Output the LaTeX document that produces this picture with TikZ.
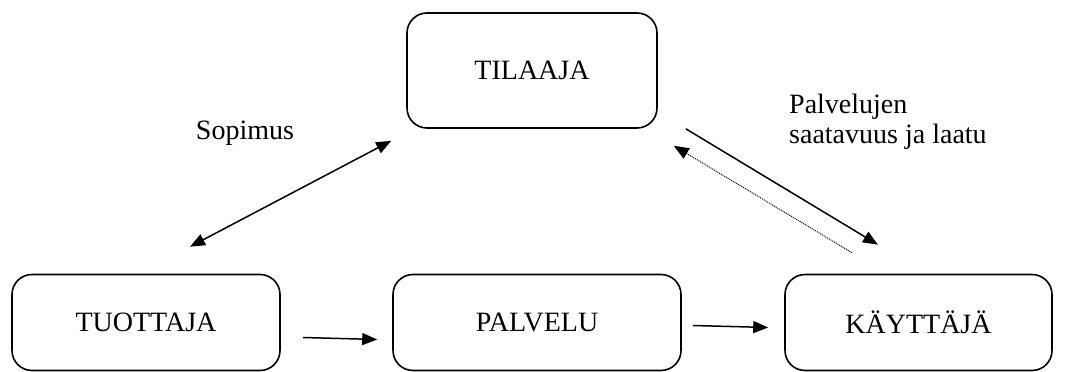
\documentclass[tikz,border=0pt]{standalone}
\usepackage{fontspec}
\setmainfont{Liberation Serif}
\newfontfamily\timesfont{Liberation Serif}
\usetikzlibrary{arrows.meta}
\begin{document}
\begin{tikzpicture}[x=1pt, y=-1pt, >={Triangle[length=15pt,width=12pt]}, font=\timesfont\fontsize{28}{30}\selectfont]
    \tikzstyle{box}=[draw, rounded corners=20pt, line width=1.6pt, inner sep=0pt, minimum height=96pt]
    \tikzstyle{arr}=[->, line width=1.5pt]
    \tikzstyle{back}=[->, line width=1pt, densely dotted]
    \useasboundingbox (0,0) rectangle (1066,372);

    \node[box, minimum width=268pt] (tuottaja) at (146,322.5) {TUOTTAJA};
    \node[box, minimum width=288pt, right of=tuottaja, node distance=391pt] (palvelu) {PALVELU};
    \node[box, minimum width=267pt, right of=palvelu, node distance=381.5pt] (kayttaja) {KÄYTTÄJÄ};
    \node[box, minimum width=250pt, minimum height=115pt] (tilaaja) at (532,70.5) {TILAAJA};

    \draw[arr] ([shift={(22,15)}]tuottaja.east) -- ([shift={(-15,17)}]palvelu.west);
    \draw[arr] ([shift={(11,3)}]palvelu.east) -- ([shift={(-16,5)}]kayttaja.west);

    \draw[arr, <->] ([shift={(44,-27)}]tuottaja.north) -- ([shift={(-15,12)}]tilaaja.south west);
    \node (sopimus) at (245,133) {Sopimus};

    \draw[arr] ([shift={(28,0)}]tilaaja.south east) -- ([shift={(-40.5,-29)}]kayttaja.north);
    \draw[back] ([shift={(-66.5,-21)}]kayttaja.north) -- ([shift={(16,17)}]tilaaja.south east);
    \node[anchor=north west, inner sep=0pt, align=left] (laatu) at (789,94) {Palvelujen\\saatavuus ja laatu};
\end{tikzpicture}
\end{document}
